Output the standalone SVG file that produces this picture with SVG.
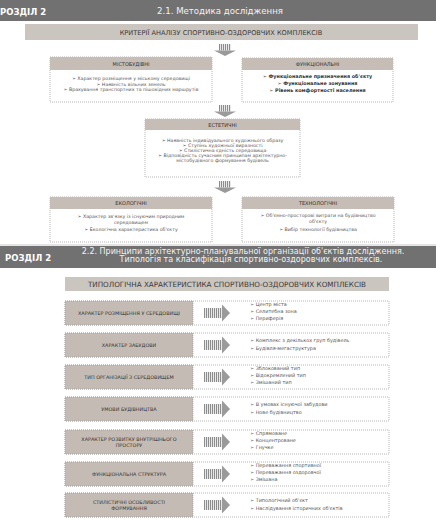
<svg xmlns="http://www.w3.org/2000/svg" width="436" height="519" viewBox="0 0 436 519">
<defs>
<pattern id="stripes" width="2" height="4" patternUnits="userSpaceOnUse">
<rect width="2" height="4" fill="#f4f4f4"/>
<rect width="1.1" height="4" fill="#8c8c8c"/>
</pattern>
<g id="arrDown">
<rect x="-6" y="0" width="12" height="6.5" fill="url(#stripes)"/>
<polygon points="-11,6.5 11,6.5 0,12" fill="#9a9a9a"/>
</g>
<g id="arrRight">
<rect x="0" y="-5" width="18" height="10" fill="url(#stripes)"/>
<polygon points="18,-8.5 26,0 18,8.5" fill="#9a9a9a"/>
</g>
</defs>
<style>
text{font-family:"DejaVu Sans","Liberation Sans",sans-serif;fill:#4a4a4a}
.hdr{fill:#717171}
.hb{font-weight:bold;font-size:8.5px;fill:#ffffff}
.title{fill:#cbc5bf}
.tt{font-size:6.6px;fill:#3a3a3a;text-anchor:middle}
.box{fill:#ffffff;stroke:#9a9a9a;stroke-width:0.7;stroke-dasharray:1 1}
.band{fill:#c6beb6}
.bt{font-size:5px;fill:#333333;text-anchor:middle}
.it{font-size:4.7px;fill:#555555;text-anchor:middle}
.itb{font-size:4.9px;fill:#333333;text-anchor:middle;font-weight:bold}
.lab{fill:#c4bcb4;stroke:#9a9a9a;stroke-width:0.7;stroke-dasharray:1 1}
.lt{font-size:4.9px;fill:#333333;text-anchor:middle}
.bl{font-size:4.9px;fill:#555555}
.ht{fill:#f2f2f2}
</style>
<rect width="436" height="519" fill="#ffffff"/>

<g id="header1">
<rect class="hdr" x="0" y="0" width="436" height="21"/>
<text class="hb" x="0" y="14.5">РОЗДІЛ 2</text>
<text class="ht" x="157" y="14" font-size="8.6">2.1.   Методика дослідження</text>
</g>

<g id="title1">
<rect class="title" x="25" y="24" width="393" height="16"/>
<text class="tt" x="221" y="34.5">КРИТЕРІЇ АНАЛІЗУ СПОРТИВНО-ОЗДОРОВЧИХ КОМПЛЕКСІВ</text>
</g>

<g id="connectors1">
<use href="#arrDown" x="225" y="44"/>
<use href="#arrDown" x="225" y="105"/>
<use href="#arrDown" x="225" y="181"/>
</g>

<g id="mistobudivni">
<rect class="box" x="50" y="57" width="162" height="45"/>
<rect class="band" x="50" y="57" width="162" height="13"/>
<text class="bt" x="131" y="65.5">МІСТОБУДІВНІ</text>
<text class="it" x="131" y="80">➢ Характер розміщення у міському середовищі</text>
<text class="it" x="131" y="85.5">➢ Наявність вільних земель</text>
<text class="it" x="131" y="91">➢ Врахування транспортних та пішохідних маршрутів</text>
</g>

<g id="funktsionalni">
<rect class="box" x="242" y="58" width="151" height="44"/>
<rect class="band" x="242" y="58" width="151" height="12"/>
<text class="bt" x="317.5" y="66">ФУНКЦІОНАЛЬНІ</text>
<text class="itb" x="317.5" y="78">➢ Функціональне призначення об'єкту</text>
<text class="itb" x="317.5" y="85">➢ Функціональне зонування</text>
<text class="itb" x="317.5" y="92">➢ Рівень комфортності населення</text>
</g>

<g id="estetychni">
<rect class="box" x="145" y="119" width="155" height="58"/>
<rect class="band" x="145" y="119" width="155" height="11"/>
<text class="bt" x="222.5" y="126.5">ЕСТЕТИЧНІ</text>
<text class="it" x="222.5" y="141.5">➢ Наявність індивідуального художнього образу</text>
<text class="it" x="222.5" y="146.5">➢ Ступінь художньої виразності</text>
<text class="it" x="222.5" y="151.5">➢ Стилістична єдність середовища</text>
<text class="it" x="222.5" y="156.5">➢ Відповідність сучасним принципам архітектурно-</text>
<text class="it" x="222.5" y="161.5">містобудівного формування будівель</text>
</g>

<g id="ekolohichni">
<rect class="box" x="50" y="197" width="162" height="45"/>
<rect class="band" x="50" y="197" width="162" height="12"/>
<text class="bt" x="131" y="205">ЕКОЛОГІЧНІ</text>
<text class="it" x="131" y="218">➢ Характер зв'язку із існуючим природним</text>
<text class="it" x="131" y="224">середовищем</text>
<text class="it" x="131" y="230.5">➢ Екологічна характеристика об'єкту</text>
</g>

<g id="tekhnolohichni">
<rect class="box" x="242" y="197" width="152" height="45"/>
<rect class="band" x="242" y="197" width="152" height="12"/>
<text class="bt" x="318" y="205">ТЕХНОЛОГІЧНІ</text>
<text class="it" x="318" y="216.5">➢ Об'ємно-просторові витрати на будівництво</text>
<text class="it" x="318" y="223">об'єкту</text>
<text class="it" x="318" y="230.5">➢ Вибір технології будівництва</text>
</g>

<rect x="0" y="244" width="436" height="2" fill="#e4e4e4"/>

<g id="header2">
<rect class="hdr" x="0" y="246" width="436" height="22"/>
<text class="hb" x="5" y="261">РОЗДІЛ 2</text>
<text class="ht" x="243" y="253.5" font-size="8" text-anchor="middle">2.2. Принципи архітектурно-планувальної організації об'єктів дослідження.</text>
<text class="ht" x="251" y="262.3" font-size="8" text-anchor="middle">Типологія та класифікація спортивно-оздоровчих комплексів.</text>
</g>

<g id="title2">
<rect class="title" x="65" y="277" width="324" height="14"/>
<text class="tt" x="227" y="286.5" style="font-size:7.2px">ТИПОЛОГІЧНА ХАРАКТЕРИСТИКА СПОРТИВНО-ОЗДОРОВЧИХ КОМПЛЕКСІВ</text>
</g>

<g id="row1">
<rect class="box" x="65" y="301" width="324" height="24"/>
<rect class="lab" x="65" y="301" width="128" height="24"/>
<text class="lt" x="129" y="314.5">ХАРАКТЕР РОЗМІЩЕННЯ У СЕРЕДОВИЩІ</text>
<text class="bl" x="250" y="306">➢ Центр міста</text>
<text class="bl" x="250" y="313">➢ Селитебна зона</text>
<text class="bl" x="250" y="320">➢ Периферія</text>
</g>

<g id="row2">
<rect class="box" x="65" y="333" width="324" height="24"/>
<rect class="lab" x="65" y="333" width="128" height="24"/>
<text class="lt" x="129" y="346.5">ХАРАКТЕР ЗАБУДОВИ</text>
<text class="bl" x="250" y="341.5">➢ Комплекс з декількох груп будівель</text>
<text class="bl" x="250" y="349.5">➢ Будівля-мегаструктура</text>
</g>

<g id="row3">
<rect class="box" x="65" y="365" width="324" height="24"/>
<rect class="lab" x="65" y="365" width="128" height="24"/>
<text class="lt" x="129" y="378.5">ТИП ОРГАНІЗАЦІЇ З СЕРЕДОВИЩЕМ</text>
<text class="bl" x="250" y="370">➢ Зблокований тип</text>
<text class="bl" x="250" y="377">➢ Відокремлений тип</text>
<text class="bl" x="250" y="384">➢ Змішаний тип</text>
</g>

<g id="row4">
<rect class="box" x="65" y="397" width="324" height="24"/>
<rect class="lab" x="65" y="397" width="128" height="24"/>
<text class="lt" x="129" y="410.5">УМОВИ БУДІВНИЦТВА</text>
<text class="bl" x="250" y="405.5">➢ В умовах існуючої забудови</text>
<text class="bl" x="250" y="413.5">➢ Нове будівництво</text>
</g>

<g id="row5">
<rect class="box" x="65" y="430" width="324" height="24"/>
<rect class="lab" x="65" y="430" width="128" height="24"/>
<text class="lt" x="129" y="440.5">ХАРАКТЕР РОЗВИТКУ ВНУТРІШНЬОГО</text>
<text class="lt" x="129" y="447">ПРОСТОРУ</text>
<text class="bl" x="250" y="435">➢ Спрямоване</text>
<text class="bl" x="250" y="442">➢ Концентроване</text>
<text class="bl" x="250" y="449">➢ Гнучке</text>
</g>

<g id="row6">
<rect class="box" x="65" y="462" width="324" height="24"/>
<rect class="lab" x="65" y="462" width="128" height="24"/>
<text class="lt" x="129" y="475.5">ФУНКЦІОНАЛЬНА СТРУКТУРА</text>
<text class="bl" x="250" y="467">➢ Переважання спортивної</text>
<text class="bl" x="250" y="474">➢ Переважання оздоровчої</text>
<text class="bl" x="250" y="481">➢ Змішана</text>
</g>

<g id="row7">
<rect class="box" x="65" y="493" width="324" height="24"/>
<rect class="lab" x="65" y="493" width="128" height="24"/>
<text class="lt" x="129" y="503.5">СТИЛІСТИЧНІ ОСОБЛИВОСТІ</text>
<text class="lt" x="129" y="510">ФОРМУВАННЯ</text>
<text class="bl" x="250" y="502">➢ Типологічний об'єкт</text>
<text class="bl" x="250" y="509.5">➢ Наслідування історичних об'єктів</text>
</g>

<g id="connectors2">
<use href="#arrRight" x="204" y="313"/>
<use href="#arrRight" x="204" y="345"/>
<use href="#arrRight" x="204" y="377"/>
<use href="#arrRight" x="204" y="409"/>
<use href="#arrRight" x="204" y="442"/>
<use href="#arrRight" x="204" y="474"/>
<use href="#arrRight" x="204" y="505"/>
</g>
</svg>
